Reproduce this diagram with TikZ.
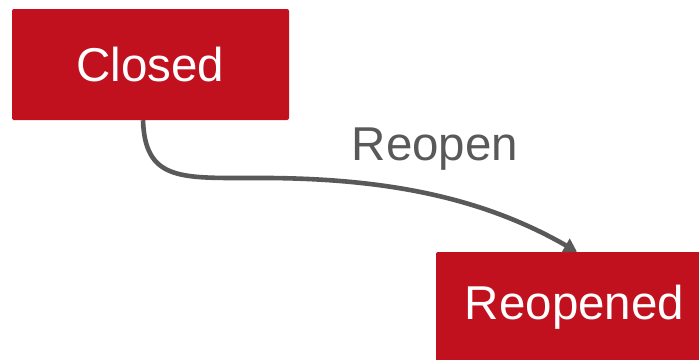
\documentclass[tikz,border=0pt]{standalone}
\usepackage{fontspec}
\setmainfont{Liberation Sans}
\usetikzlibrary{arrows.meta}
\definecolor{boxred}{HTML}{C1111F}
\definecolor{linegray}{HTML}{595959}
\tikzset{
  state/.style={fill=boxred, draw=none, rounded corners=2pt, minimum width=277pt, minimum height=111pt, inner sep=0pt, text=white, font=\fontsize{47.5}{56}\selectfont},
  trans/.style={draw=linegray, line width=4.6pt, -{Triangle[length=13pt,width=15pt]}},
  tlabel/.style={text=linegray, font=\fontsize{47.5}{56}\selectfont, inner sep=0pt, anchor=base}
}
\begin{document}
\begin{tikzpicture}[x=1pt,y=-1pt]
\useasboundingbox (0,0) rectangle (699,359);
\clip (0,0) rectangle (699,359);
\node[state] (closed) at (150.5,64.5) {Closed};
\node[state] (reopened) at (574.5,307.5) {Reopened};
\coordinate (mid) at (250,178);
\draw[trans] ([xshift=-7.5pt]closed.south) .. controls (145,180) and (180,178) .. (mid) .. controls (380,177) and (480,196) .. ([xshift=2.5pt]reopened.north);
\node[tlabel] (lab) at (435,160) {Reopen};
\end{tikzpicture}
\end{document}
